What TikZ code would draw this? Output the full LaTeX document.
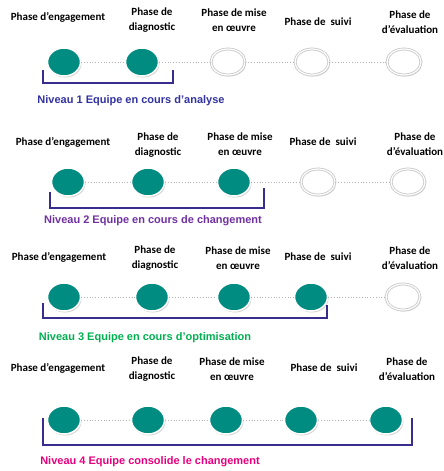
\documentclass[tikz,border=0pt]{standalone}
\usepackage{fontspec}
\setmainfont{Carlito}
\newfontfamily\arialfont{Liberation Sans}
\usetikzlibrary{shapes.geometric,shadows}
\definecolor{tealdot}{RGB}{0,140,128}
\definecolor{bracketblue}{RGB}{55,45,140}
\definecolor{niv1}{RGB}{50,50,160}
\definecolor{niv2}{RGB}{112,48,160}
\definecolor{niv3}{RGB}{0,176,80}
\definecolor{niv4}{RGB}{230,0,126}
\tikzset{
  phase/.style={align=center, inner sep=0pt, font=\bfseries\fontsize{11}{14.5}\selectfont},
  done/.style={ellipse, minimum width=33pt, minimum height=28pt, inner sep=0pt,
    fill=tealdot, draw=white, line width=1.5pt,
    drop shadow={opacity=0.35, shadow xshift=1pt, shadow yshift=-1.5pt}},
  todo/.style={ellipse, minimum width=34pt, minimum height=26pt, inner sep=0pt,
    fill=white, draw=gray!45, double=white, double distance=1.2pt, line width=0.8pt,
    drop shadow={opacity=0.3, shadow xshift=1pt, shadow yshift=-1.5pt}},
  link/.style={gray!60, dotted, line width=0.8pt},
  bracket/.style={bracketblue, line width=1.5pt},
  niveau/.style={inner sep=0pt, font=\arialfont\bfseries\fontsize{11}{13}\selectfont}
}
\begin{document}
\begin{tikzpicture}[x=1pt,y=-1pt]
\useasboundingbox (0,0) rectangle (444,471);
% niveau 1
\node[phase] (pe1) at (58,17) {Phase d’engagement};
\node[phase] (pd1) at (152,20) {Phase de\\diagnostic};
\node[phase] (pm1) at (234,20) {Phase de mise\\en œuvre};
\node[phase] (ps1) at (318,22) {Phase de~ suivi};
\node[phase] (pv1) at (410,22) {Phase de\\d’évaluation};
\node[done] (ce1) at (64,62) {};
\node[done] (cd1) at (142,62) {};
\node[todo] (cm1) at (228,62) {};
\node[todo] (cs1) at (312,62) {};
\node[todo] (cv1) at (404,62) {};
\draw[link] (ce1) -- (cd1);
\draw[link] (cd1) -- (cm1);
\draw[link] (cm1) -- (cs1);
\draw[link] (cs1) -- (cv1);
\draw[bracket] (43,70) |- (173,83) -- (173,70);
\node[niveau, text=niv1] (n1) at (131,101) {Niveau 1 Equipe en cours d’analyse};
% niveau 2
\node[phase] (pe2) at (63,142) {Phase d’engagement};
\node[phase] (pd2) at (158,145) {Phase de\\diagnostic};
\node[phase] (pm2) at (240,144) {Phase de mise\\en œuvre};
\node[phase] (ps2) at (323,142) {Phase de~ suivi};
\node[phase] (pv2) at (415,144) {Phase de\\d’évaluation};
\node[done] (ce2) at (68,182) {};
\node[done] (cd2) at (148,182) {};
\node[done] (cm2) at (234,182) {};
\node[todo] (cs2) at (318,182) {};
\node[todo] (cv2) at (408,182) {};
\draw[link] (ce2) -- (cd2);
\draw[link] (cd2) -- (cm2);
\draw[link] (cm2) -- (cs2);
\draw[link] (cs2) -- (cv2);
\draw[bracket] (50,192) |- (264,208) -- (264,188);
\node[niveau, text=niv2] (n2) at (153,221) {Niveau 2 Equipe en cours de changement};
% niveau 3
\node[phase] (pe3) at (59,257) {Phase d’engagement};
\node[phase] (pd3) at (155,258) {Phase de\\diagnostic};
\node[phase] (pm3) at (238,258) {Phase de mise\\en œuvre};
\node[phase] (ps3) at (318,257) {Phase de~ suivi};
\node[phase] (pv3) at (410,258) {Phase de\\d’évaluation};
\node[done] (ce3) at (64,297) {};
\node[done] (cd3) at (152,297) {};
\node[done] (cm3) at (234,297) {};
\node[done] (cs3) at (311,297) {};
\node[todo] (cv3) at (403,297) {};
\draw[link] (ce3) -- (cd3);
\draw[link] (cd3) -- (cm3);
\draw[link] (cm3) -- (cs3);
\draw[link] (cs3) -- (cv3);
\draw[bracket] (43,303) |- (327,318) -- (327,305);
\node[niveau, text=niv3] (n3) at (145,338) {Niveau 3 Equipe en cours d’optimisation};
% niveau 4
\node[phase] (pe4) at (58,368) {Phase d’engagement};
\node[phase] (pd4) at (152,369) {Phase de\\diagnostic};
\node[phase] (pm4) at (232,369) {Phase de mise\\en œuvre};
\node[phase] (ps4) at (324,368) {Phase de~ suivi};
\node[phase] (pv4) at (407,369) {Phase de\\d’évaluation};
\node[done] (ce4) at (64,420) {};
\node[done] (cd4) at (148,420) {};
\node[done] (cm4) at (226,420) {};
\node[done] (cs4) at (301,420) {};
\node[done] (cv4) at (386,420) {};
\draw[link] (ce4) -- (cd4);
\draw[link] (cd4) -- (cm4);
\draw[link] (cm4) -- (cs4);
\draw[link] (cs4) -- (cv4);
\draw[bracket] (43,418) |- (412,445) -- (412,418);
\node[niveau, text=niv4] (n4) at (150,462) {Niveau 4 Equipe consolide le changement};
\end{tikzpicture}
\end{document}
